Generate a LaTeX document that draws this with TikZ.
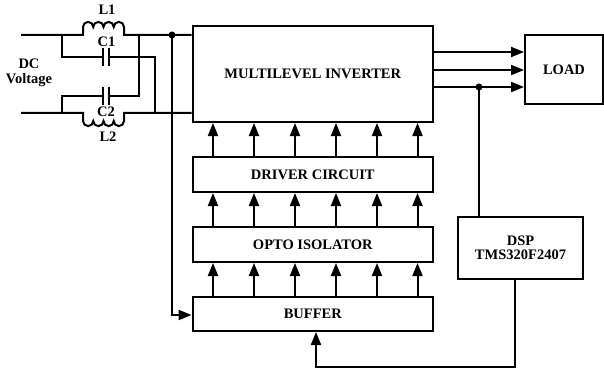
\documentclass[tikz,border=0pt]{standalone}
\usepackage{fontspec}
\setmainfont{Liberation Serif}
\usetikzlibrary{arrows.meta}

\begin{document}
\begin{tikzpicture}[x=1pt, y=1pt, line width=2pt,
    block/.style={draw, inner sep=0pt, font=\bfseries\fontsize{14.5}{14.5}\selectfont},
    lbl/.style={inner sep=0pt, font=\bfseries\fontsize{14.5}{15}\selectfont},
    sig/.style={-{Triangle[length=13pt, width=10pt]}}]
    \useasboundingbox (0,0) rectangle (604,370);
    % blocks
    \node[block, minimum width=240.5pt, minimum height=96pt] (inverter) at (312.8,296) {MULTILEVEL INVERTER};
    \node[block, minimum width=240.5pt, minimum height=35pt] (driver) at (312.8,195.5) {DRIVER CIRCUIT};
    \node[block, minimum width=240.5pt, minimum height=35pt] (opto) at (312.8,125.5) {OPTO ISOLATOR};
    \node[block, minimum width=240.5pt, minimum height=34pt] (buffer) at (312.8,56) {BUFFER};
    \node[block, minimum width=78pt, minimum height=69pt] (load) at (564,300.5) {LOAD};
    \node[block, minimum width=125pt, minimum height=62pt, align=center] (dsp) at (520.5,122) {DSP\\TMS320F2407};
    % arrows between blocks
    \foreach \x in {213,254,295,336,377,417.5} {
        \draw[sig] (\x,0 |- driver.north) -- (\x,0 |- inverter.south);
        \draw[sig] (\x,0 |- opto.north) -- (\x,0 |- driver.south);
        \draw[sig] (\x,0 |- buffer.north) -- (\x,0 |- opto.south);
    }
    % output to load
    \foreach \y in {318,300,283} {
        \draw[sig] (inverter.east |- 0,\y) -- (load.west |- 0,\y);
    }
    % feedback to dsp and buffer
    \coordinate (tap) at (479,283);
    \fill (tap) circle (3.5pt);
    \draw (tap) -- (tap |- dsp.north);
    \coordinate (dspout) at (515,3);
    \draw[sig] (dspout |- dsp.south) -- (dspout) -- (316,3) -- (316,0 |- buffer.south);
    % input wires
    \coordinate (topin) at (21,335);
    \coordinate (botin) at (21,257);
    \coordinate (l1a) at (83,335);
    \coordinate (l1b) at (124,335);
    \coordinate (l2a) at (83,257);
    \coordinate (l2b) at (124,257);
    \coordinate (rail) at (172,335);
    \draw (topin) -- (l1a) -- ++(0,8) arc[start angle=180, end angle=0, radius=5.125pt]
        arc[start angle=180, end angle=0, radius=5.125pt]
        arc[start angle=180, end angle=0, radius=5.125pt]
        arc[start angle=180, end angle=0, radius=5.125pt] -- (l1b) -- (inverter.west |- l1b);
    \draw (botin) -- (l2a) -- ++(0,-8) arc[start angle=-180, end angle=0, radius=5.125pt]
        arc[start angle=-180, end angle=0, radius=5.125pt]
        arc[start angle=-180, end angle=0, radius=5.125pt]
        arc[start angle=-180, end angle=0, radius=5.125pt] -- (l2b) -- (inverter.west |- l2b);
    % capacitors
    \draw (62,335) -- (62,313) -- (103,313);
    \draw (109,313) -- (155,313) -- (155,257);
    \draw (103,322) -- (103,304);
    \draw (109,322) -- (109,304);
    \draw (62,257) -- (62,274) -- (103,274);
    \draw (109,274) -- (139,274) -- (139,335);
    \draw (103,283) -- (103,265);
    \draw (109,283) -- (109,265);
    % supply to buffer
    \fill (rail) circle (3.5pt);
    \draw[sig] (rail) -- (172,55) -- (buffer.west |- 0,55);
    % labels
    \node[lbl] (l1) at (107,360) {L1};
    \node[lbl] (c1) at (106.5,328) {C1};
    \node[lbl] (c2) at (106,258) {C2};
    \node[lbl] (l2) at (108,233) {L2};
    \node[lbl, align=center] (dc) at (29,297.5) {DC\\Voltage};
\end{tikzpicture}
\end{document}
